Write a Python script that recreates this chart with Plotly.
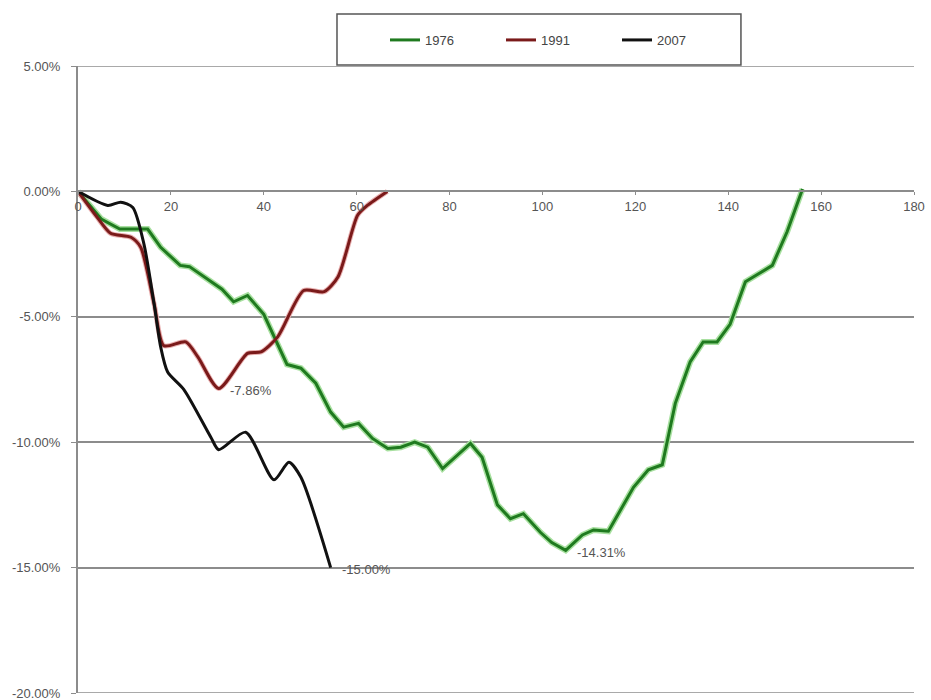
import plotly.graph_objects as go

# ---- data ----
x_1976 = [0, 5, 9, 15, 17.8, 22, 24, 31, 33.5, 36.5, 40, 45, 48, 51.2, 54.4, 57.2, 60.4, 63.4, 66.7,
          69.5, 72.5, 75.3, 78.5, 84.5, 87, 90.3, 93.1, 95.9, 99.6, 102, 105, 108.6, 111, 114.2,
          119.6, 122.8, 125.8, 127.1, 128.6, 131.8, 134.6, 137.6, 140.4, 143.7, 146.5, 149.5, 152.7, 156]
y_1976 = [0, -1.1, -1.5, -1.5, -2.23, -2.95, -3.0, -3.9, -4.4, -4.15, -4.9, -6.9, -7.05, -7.65, -8.8, -9.4, -9.25, -9.85, -10.25,
          -10.2, -10.0, -10.2, -11.05, -10.05, -10.6, -12.5, -13.05, -12.85, -13.6, -14.0, -14.31, -13.7, -13.5, -13.55,
          -11.8, -11.1, -10.9, -9.8, -8.45, -6.8, -6.0, -6.0, -5.3, -3.6, -3.3, -2.95, -1.6, 0.1]

x_1991 = [0, 4, 7, 11.4, 13.5, 16.4, 18.5, 23.2, 25.8, 30.3, 36.5, 39.4, 43, 48.6, 53, 56, 60.2, 62.3, 66.6]
y_1991 = [0, -1.0, -1.67, -1.83, -2.23, -4.5, -6.15, -6.0, -6.6, -7.86, -6.46, -6.4, -5.8, -3.95, -4.0, -3.4, -0.95, -0.56, 0]

x_2007 = [0, 6.4, 9.2, 11.8, 14.2, 16.4, 17.8, 19.3, 22.8, 28.6, 30.3, 36.1, 42.2, 45.4, 48, 54.4]
y_2007 = [0, -0.56, -0.43, -0.64, -2.1, -4.5, -6.2, -7.2, -7.9, -9.8, -10.3, -9.6, -11.5, -10.8, -11.4, -15.0]

x_ticks = [0, 20, 40, 60, 80, 100, 120, 140, 160, 180]
y_ticks = [5, 0, -5, -10, -15, -20]
y_tick_labels = ["5.00%", "0.00%", "-5.00%", "-10.00%", "-15.00%", "-20.00%"]

labels = [  # (x, y, text)
    (30.3, -7.86, "-7.86%"),
    (54.4, -15.0, "-15.00%"),
    (105, -14.31, "-14.31%"),
]

GREEN = "#1f7a1f"
RED = "#7a1a1a"
BLACK = "#111111"
FONT = "Liberation Sans, Arial, sans-serif"
TXT = "#555555"
GRID = "#8c8c8c"

fig = go.Figure()
# halos
fig.add_trace(go.Scatter(x=x_1976, y=y_1976, mode="lines", line=dict(color="#a8e0a0", width=6),
                         showlegend=False, hoverinfo="skip"))
fig.add_trace(go.Scatter(x=x_1991, y=y_1991, mode="lines", line=dict(color="#e8b0b0", width=5, shape="spline", smoothing=0.7),
                         showlegend=False, hoverinfo="skip"))
fig.add_trace(go.Scatter(x=x_1976, y=y_1976, mode="lines", name="1976", line=dict(color=GREEN, width=3)))
fig.add_trace(go.Scatter(x=x_1991, y=y_1991, mode="lines", name="1991",
                         line=dict(color=RED, width=3, shape="spline", smoothing=0.7)))
fig.add_trace(go.Scatter(x=x_2007, y=y_2007, mode="lines", name="2007",
                         line=dict(color=BLACK, width=3, shape="spline", smoothing=0.7)))

for lx, ly, t in labels:
    fig.add_annotation(x=lx, y=ly, text=t, showarrow=False, xanchor="left", yanchor="middle",
                       xshift=9, yshift=-2, font=dict(family=FONT, size=13, color=TXT))

# legend frame
fig.add_shape(type="rect", xref="paper", yref="paper", x0=0.3098, x1=0.793, y0=1.0016, y1=1.083,
              line=dict(color="#555555", width=1.5), fillcolor="white", layer="above")

fig.update_layout(
    width=931, height=700,
    margin=dict(l=78, r=17, t=66, b=7, autoexpand=False),
    paper_bgcolor="white", plot_bgcolor="white",
    font=dict(family=FONT, size=13, color=TXT),
    showlegend=True,
    legend=dict(orientation="h", x=(385 - 78) / 836, y=1.0415, xanchor="left", yanchor="middle",
                bgcolor="rgba(0,0,0,0)", borderwidth=0, entrywidth=71, itemwidth=30,
                font=dict(family=FONT, size=13, color="#444444")),
    xaxis=dict(range=[0, 180], tickvals=x_ticks, showgrid=False, zeroline=False, automargin=False,
               anchor="free", position=0.8, showline=True, linecolor=GRID, linewidth=1.5,
               ticks="outside", ticklen=3, tickcolor=GRID,
               tickfont=dict(family=FONT, size=13, color=TXT)),
    yaxis=dict(range=[-20, 5], tickvals=y_ticks, ticktext=y_tick_labels, showgrid=True, automargin=False,
               gridcolor=GRID, gridwidth=1.5, zeroline=False, showline=True, linecolor=GRID,
               linewidth=2, ticks="outside", ticklen=5, tickcolor=GRID, ticklabelstandoff=8,
               ticklabeloverflow="allow",
               tickfont=dict(family=FONT, size=13, color=TXT)),
)

# top and bottom boundary lines
for yv in (5, -20):
    fig.add_shape(type="line", xref="paper", yref="y", x0=0, x1=1, y0=yv, y1=yv,
                  line=dict(color=GRID, width=1.5), layer="below")

fig.write_html("out.html")
